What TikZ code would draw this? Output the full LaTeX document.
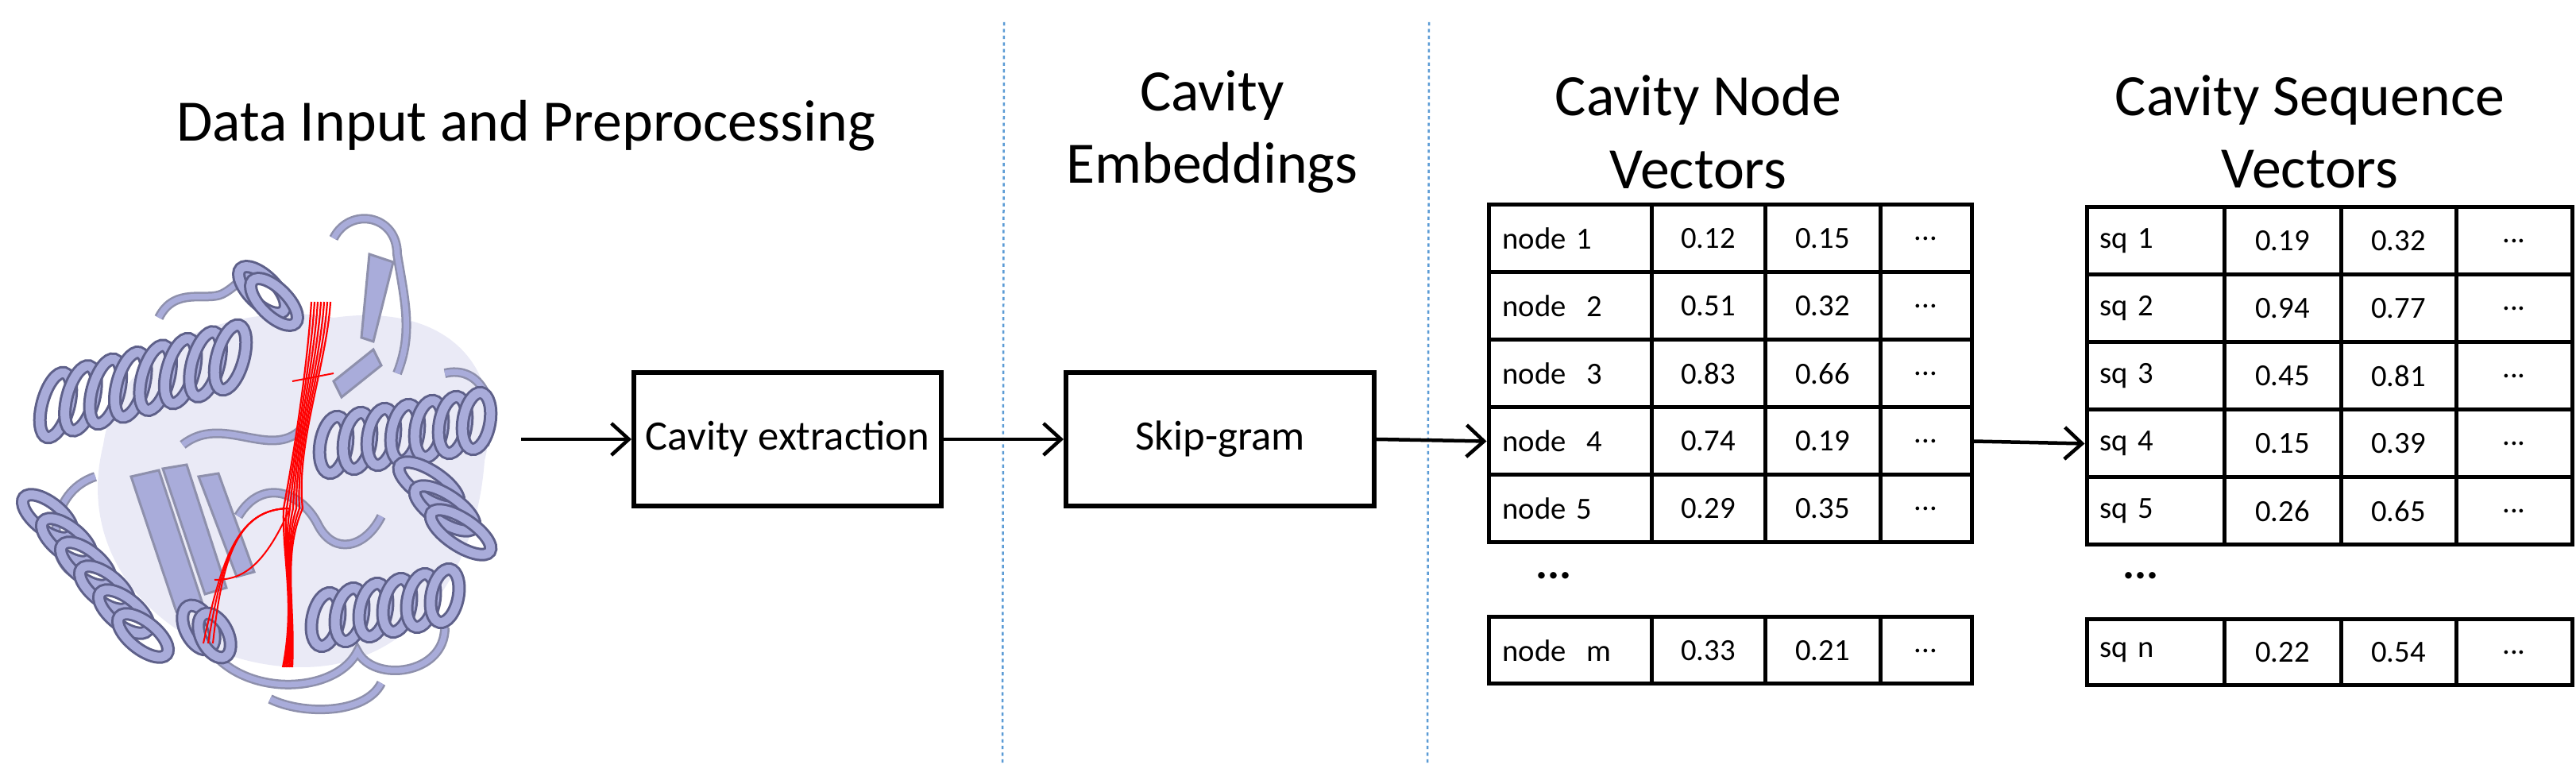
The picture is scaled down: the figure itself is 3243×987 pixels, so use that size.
\documentclass[tikz,border=0pt]{standalone}
\usepackage{fontspec}
\setmainfont{Carlito}
\usetikzlibrary{arrows.meta}
\definecolor{prot}{HTML}{A9ACDA}
\definecolor{protd}{HTML}{5E6089}
\definecolor{sep}{HTML}{5B9BD5}
\newcommand{\myhelix}[6]{% x1,y1,x2,y2,turns,radius
  \foreach \k in {0,...,#5} {
    \pgfmathsetmacro\px{#1+(#3-#1)*\k/#5}
    \pgfmathsetmacro\py{#2+(#4-#2)*\k/#5}
    \pgfmathsetmacro\ang{atan2(#4-#2,#3-#1)}
    \draw[protd,line width=1.7mm,rotate around={\ang:(\px,\py)}] (\px,\py) ellipse (17 and #6);
    \draw[prot,line width=1.1mm,rotate around={\ang:(\px,\py)}] (\px,\py) ellipse (17 and #6);
  }}
\begin{document}
\begin{tikzpicture}[x=0.1mm,y=-0.1mm,
  title/.style={font=\fontsize{21}{26}\selectfont,align=center},
  box/.style={draw,line width=0.6mm,inner sep=0},
  cell/.style={draw,line width=0.5mm,inner sep=0,font=\fontsize{11}{13}\selectfont},
  arr/.style={-{Straight Barb[length=2.2mm,width=4mm]},line width=0.45mm},
  loopst/.style={protd!70,line width=1.2mm},
  loopin/.style={prot,line width=0.7mm},
  strand/.style={fill=prot,draw=protd!70,line width=0.3mm}]
\useasboundingbox (0,0) rectangle (3243,987);
% separators
\draw[sep,dash pattern=on 1.2pt off 1.2pt,line width=0.25mm] (1264,28) -- (1262,963);
\draw[sep,dash pattern=on 1.2pt off 1.2pt,line width=0.25mm] (1799,28) -- (1797,963);
% titles
\node[title] (t1) at (662,158) {Data Input and Preprocessing};
\node[title] (t2) at (1526,166) {Cavity\\Embeddings};
\node[title] (t3) at (2138,166) {Cavity Node\\Vectors};
\node[title] (t4) at (2908,166) {Cavity Sequence\\Vectors};
% protein (stylised)
\fill[prot!25] (130,560) .. controls (150,420) and (320,380) .. (420,400) .. controls (560,380) and (640,460) .. (610,580) .. controls (600,720) and (520,840) .. (380,840) .. controls (230,840) and (90,720) .. (130,560);
\foreach \p in {
  {(420,300) .. controls (440,260) and (500,270) .. (500,320) .. controls (510,380) and (520,420) .. (500,470)},
  {(200,400) .. controls (220,360) and (260,380) .. (280,370) .. controls (300,360) and (310,340) .. (330,340)},
  {(250,790) .. controls (280,880) and (420,880) .. (450,820) .. controls (470,860) and (560,850) .. (560,790)},
  {(120,600) .. controls (60,620) and (60,700) .. (90,720)},
  {(560,470) .. controls (600,460) and (630,500) .. (610,560)},
  {(340,880) .. controls (380,900) and (460,900) .. (480,860)},
  {(300,650) .. controls (330,600) and (380,620) .. (400,660) .. controls (420,700) and (460,690) .. (480,650)},
  {(230,560) .. controls (280,520) and (340,580) .. (380,540)}} {
  \draw[loopst] \p; \draw[loopin] \p;
}
\draw[strand] (165,600) -- (200,592) -- (255,760) -- (222,770) -- cycle;
\draw[strand] (205,590) -- (235,585) -- (285,740) -- (258,748) -- cycle;
\draw[strand] (250,600) -- (275,596) -- (320,720) -- (298,726) -- cycle;
\draw[strand] (465,320) -- (495,330) -- (470,430) -- (455,425) -- cycle;
\draw[strand] (420,480) -- (470,440) -- (480,460) -- (430,500) -- cycle;
\myhelix{70}{510}{290}{450}{7}{42}
\myhelix{60}{650}{180}{800}{5}{38}
\myhelix{330}{365}{345}{380}{1}{38}
\myhelix{420}{560}{600}{530}{6}{36}
\myhelix{540}{610}{580}{670}{2}{44}
\myhelix{410}{780}{560}{750}{5}{34}
\myhelix{250}{790}{270}{800}{1}{30}
% red cavity strands
\foreach \dx in {-8,-4,0,4,8,12,16} {
  \draw[red,line width=0.22mm] (400+\dx,380) .. controls (395+\dx,460) and (372,560) .. (365+\dx,640) .. controls (355,700) and (372,760) .. (360+\dx*0.5,840);
}
\foreach \dx in {-6,0,6} {
  \draw[red,line width=0.2mm] (365,640) .. controls (300,640) and (280,700) .. (262+\dx,810);
}
\draw[red,line width=0.2mm] (365,640) .. controls (330,720) and (300,730) .. (270,730);
\draw[red,line width=0.2mm] (368,480) -- (420,470);
\coordinate (pr) at (656,553);
% boxes
\node[box,minimum width=38.7mm,minimum height=16.8mm,font=\fontsize{15}{18}\selectfont] (ce) at (991.5,553) {Cavity extraction};
\node[box,minimum width=38.8mm,minimum height=16.8mm,font=\fontsize{15}{18}\selectfont] (sg) at (1536,553) {Skip-gram};
\draw[arr] (pr) -- (ce.west);
\draw[arr] (ce.east) -- (sg.west);
% node table
\foreach \i/\lab/\a/\b [count=\r] in {1/node 1/0.12/0.15,2/node\ \ 2/0.51/0.32,3/node\ \ 3/0.83/0.66,4/node\ \ 4/0.74/0.19,5/node 5/0.29/0.35} {
  \pgfmathsetmacro\yy{258+85*(\r-1)+42.5}
  \node[cell,minimum width=20.5mm,minimum height=8.5mm,text width=17mm] (n\i a) at (1976.5,\yy) {\lab};
  \node[cell,minimum width=14.3mm,minimum height=8.5mm] (n\i b) at (2150.5,\yy) {\a};
  \node[cell,minimum width=14.5mm,minimum height=8.5mm] (n\i c) at (2294.5,\yy) {\b};
  \node[cell,minimum width=11.5mm,minimum height=8.5mm] (n\i d) at (2424.5,\yy) {...};
}
\node[font=\fontsize{16}{18}\selectfont\bfseries] (ndots) at (1956,725) {...};
\node[cell,minimum width=20.5mm,minimum height=8.4mm,text width=17mm] (nma) at (1976.5,819) {node\ \ m};
\node[cell,minimum width=14.3mm,minimum height=8.4mm] (nmb) at (2150.5,819) {0.33};
\node[cell,minimum width=14.5mm,minimum height=8.4mm] (nmc) at (2294.5,819) {0.21};
\node[cell,minimum width=11.5mm,minimum height=8.4mm] (nmd) at (2424.5,819) {...};
% sequence table
\foreach \i/\lab/\a/\b [count=\r] in {1/sq 1/0.19/0.32,2/sq 2/0.94/0.77,3/sq 3/0.45/0.81,4/sq 4/0.15/0.39,5/sq 5/0.26/0.65} {
  \pgfmathsetmacro\yy{261+85*(\r-1)+42.5}
  \node[cell,minimum width=17.3mm,minimum height=8.5mm,text width=14mm] (s\i a) at (2713.5,\yy) {\lab};
  \node[cell,minimum width=14.7mm,minimum height=8.5mm] (s\i b) at (2873.5,\yy) {\a};
  \node[cell,minimum width=14.5mm,minimum height=8.5mm] (s\i c) at (3019.5,\yy) {\b};
  \node[cell,minimum width=14.6mm,minimum height=8.5mm] (s\i d) at (3165,\yy) {...};
}
\node[font=\fontsize{16}{18}\selectfont\bfseries] (sdots) at (2695,725) {...};
\node[cell,minimum width=17.3mm,minimum height=8.3mm,text width=14mm] (sna) at (2713.5,821.5) {sq n};
\node[cell,minimum width=14.7mm,minimum height=8.3mm] (snb) at (2873.5,821.5) {0.22};
\node[cell,minimum width=14.5mm,minimum height=8.3mm] (snc) at (3019.5,821.5) {0.54};
\node[cell,minimum width=14.6mm,minimum height=8.3mm] (snd) at (3165,821.5) {...};
% arrows to tables
\draw[arr] (sg.east) -- (n4a.west);
\draw[arr] (n4d.east) -- (s4a.west);
\end{tikzpicture}
\end{document}
